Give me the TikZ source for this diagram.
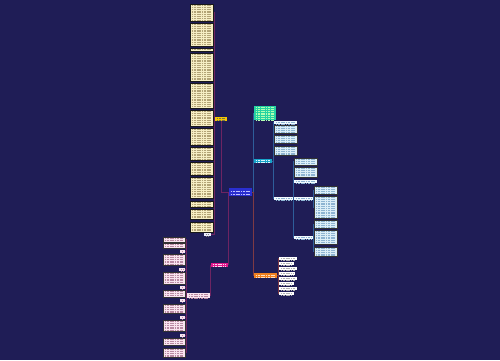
\documentclass[tikz,border=0pt]{standalone}
\pgfdeclarelayer{bg}
\pgfsetlayers{bg,main}
\definecolor{bgc}{HTML}{1F1D56}
\definecolor{beigef}{HTML}{F6EEC4}
\definecolor{beiget}{HTML}{B3A476}
\definecolor{lbf}{HTML}{DCEEF7}
\definecolor{lbt}{HTML}{8DB4D2}
\definecolor{pinkf}{HTML}{F8E4EF}
\definecolor{pinkt}{HTML}{B98AA3}
\definecolor{rootf}{HTML}{2A2FD0}
\definecolor{greenf}{HTML}{24D3A2}
\definecolor{cyanf}{HTML}{17A3C9}
\definecolor{yellowf}{HTML}{F5C800}
\definecolor{magf}{HTML}{E0168C}
\definecolor{orangef}{HTML}{F08020}
\definecolor{lnleft}{HTML}{6E2462}
\definecolor{lnright}{HTML}{2E5E9A}
\definecolor{lnorange}{HTML}{7E3A44}
\tikzset{
  tl/.style 2 args={path picture={
    \foreach \k in {1,...,16}{
      \draw[#1, line width=0.65pt, dash pattern=on 1.6pt off 0.5pt on 2.4pt off 0.6pt on 1pt off 0.5pt on 3pt off 0.6pt]
        ([xshift=1.6pt, yshift=-\k*#2+0.2pt]path picture bounding box.north west) --
        ([xshift=-1.6pt, yshift=-\k*#2+0.2pt]path picture bounding box.north east);
    }}},
  boxbase/.style={rectangle, inner sep=0pt, outer sep=0pt},
  beige/.style={boxbase, fill=beigef, draw=black!90, line width=0.6pt, tl={beiget}{1.8pt}},
  blab/.style={boxbase, fill=white!92!blue, tl={gray}{1.9pt}},
  lb/.style={boxbase, fill=lbf, draw=black!80, line width=0.5pt, tl={lbt}{1.8pt}},
  lbthin/.style={boxbase, fill=white!95!cyan, tl={lbt}{1.9pt}},
  pinkb/.style={boxbase, fill=pinkf, draw=black!80, line width=0.5pt, tl={pinkt}{1.8pt}},
  pinkl/.style={boxbase, fill=pinkf, tl={pinkt}{1.9pt}},
  whiteb/.style={boxbase, fill=white, tl={gray!60}{1.9pt}},
  rootb/.style={boxbase, fill=rootf, tl={white!75!blue}{3.2pt}},
  greenb/.style={boxbase, fill=greenf, tl={white!70!green}{1.8pt}},
  cyanb/.style={boxbase, fill=cyanf, tl={white!85!cyan}{1.9pt}},
  yellowb/.style={boxbase, fill=yellowf, tl={black!60!yellow}{1.9pt}},
  magb/.style={boxbase, fill=magf, tl={white!85!magenta}{1.9pt}},
  orangeb/.style={boxbase, fill=orangef, tl={white!75!orange}{2.2pt}},
  lnL/.style={draw=lnleft, line width=0.6pt},
  lnR/.style={draw=lnright, line width=0.6pt},
  lnO/.style={draw=lnorange, line width=0.6pt},
}
\newcommand\bx[6]{\node[#6, minimum width={(#4)-(#2)}, minimum height={(#5)-(#3)}] (#1) at ({((#2)+(#4))/2},{((#3)+(#5))/2}) {};}
\begin{document}
\begin{tikzpicture}[x=1pt,y=-1pt]
\useasboundingbox (0,0) rectangle (500,360);
% root and main branches
\bx{root}{229}{188}{252}{196}{rootb}
\bx{yellow}{215}{117}{227}{121}{yellowb}
\bx{magenta}{211}{263}{228}{267}{magb}
\bx{green}{254}{106}{276}{120}{greenb}
\bx{cyan}{254}{159}{272}{163}{cyanb}
\bx{orange}{254}{273}{277}{278}{orangeb}
% beige column
\bx{b1}{190}{4}{213}{21}{beige}
\bx{b2}{190}{23}{213}{46}{beige}
\bx{b3}{190}{48}{213}{51}{beige}
\bx{b4}{190}{53}{213}{81}{beige}
\bx{b5}{190}{83}{213}{108}{beige}
\bx{b6}{190}{110}{213}{126}{beige}
\bx{b7}{190}{128}{213}{145}{beige}
\bx{b8}{190}{147}{213}{160}{beige}
\bx{b9}{190}{162}{213}{175}{beige}
\bx{b10}{190}{177}{213}{198}{beige}
\bx{b11}{190}{201}{213}{207}{beige}
\bx{b12}{190}{209}{213}{219}{beige}
\bx{b13}{190}{222}{213}{232}{beige}
\bx{b14}{204}{233}{211}{236}{blab}
% magenta branch
\bx{mid}{187}{293}{210}{298}{pinkl}
\bx{p1}{163}{237}{185}{242}{pinkb}
\bx{p2}{163}{243}{185}{248}{pinkb}
\bx{p3}{180}{250}{185}{253}{pinkl}
\bx{p4}{163}{254}{185}{265}{pinkb}
\bx{p5}{179}{268}{185}{271}{pinkl}
\bx{p6}{163}{272}{185}{284}{pinkb}
\bx{p7}{180}{286}{185}{289}{pinkl}
\bx{p8}{163}{290}{185}{297}{pinkb}
\bx{p9}{180}{299}{185}{302}{pinkl}
\bx{p10}{163}{304}{185}{313}{pinkb}
\bx{p11}{180}{316}{185}{319}{pinkl}
\bx{p12}{163}{320}{185}{331}{pinkb}
\bx{p13}{180}{334}{185}{337}{pinkl}
\bx{p14}{163}{338}{185}{345}{pinkb}
\bx{p15}{163}{348}{185}{357}{pinkb}
% cyan branch
\bx{c1}{274}{121}{297}{124}{lbthin}
\bx{c2}{274}{125}{297}{133}{lb}
\bx{c3}{274}{135}{297}{143}{lb}
\bx{c4}{274}{146}{297}{155}{lb}
\bx{c5}{274}{197}{293}{200}{lbthin}
\bx{d1}{294}{158}{317}{165}{lb}
\bx{d2}{294}{167}{317}{177}{lb}
\bx{d3}{294}{180}{317}{183}{lbthin}
\bx{d4}{294}{197}{313}{200}{lbthin}
\bx{d5}{294}{236}{313}{239}{lbthin}
\bx{e1}{314}{186}{337}{194}{lb}
\bx{e2}{314}{196}{337}{218}{lb}
\bx{e3}{314}{220}{337}{228}{lb}
\bx{e4}{314}{230}{337}{244}{lb}
\bx{e5}{314}{247}{337}{256}{lb}
% orange branch
\bx{o1}{279}{257}{297}{260}{whiteb}
\bx{o2}{279}{262}{294}{265}{whiteb}
\bx{o3}{279}{267}{297}{270}{whiteb}
\bx{o4}{279}{272}{295}{275}{whiteb}
\bx{o5}{279}{277}{297}{280}{whiteb}
\bx{o6}{279}{282}{294}{285}{whiteb}
\bx{o7}{279}{287}{297}{290}{whiteb}
\bx{o8}{279}{292}{294}{295}{whiteb}
\begin{pgfonlayer}{bg}
\fill[bgc] (0,0) rectangle (500,360);
\draw[lnL] (root.west) -| (yellow.south);
\draw[lnL] (root.west) -- ++(-1,0) |- (magenta.east);
\foreach \n in {b1,b2,b3,b4,b5,b6,b7,b8,b9,b10,b11,b12,b13,b14}
  \draw[lnL] (yellow.west) -- ++(-0.7,0) |- (\n.east);
\draw[lnL] (magenta.west) -- ++(-0.6,0) |- (mid.east);
\foreach \n in {p1,p2,p3,p4,p5,p6,p7,p8,p9,p10,p11,p12,p13,p14,p15}
  \draw[lnL] (mid.west) -- ++(-0.7,0) |- (\n.east);
\foreach \n in {green,cyan}
  \draw[lnR] (root.east) -- ++(1,0) |- (\n.west);
\draw[lnO] (root.east) -- ++(1,0) |- (orange.west);
\foreach \n in {c1,c2,c3,c4,c5}
  \draw[lnR] (cyan.east) -- ++(1,0) |- (\n.west);
\foreach \n in {d1,d2,d3,d4,d5}
  \draw[lnR] (c5.east) -- ++(0.5,0) |- (\n.west);
\foreach \n in {e1,e2}
  \draw[lnR] (d4.east) -- ++(0.5,0) |- (\n.west);
\foreach \n in {e3,e4,e5}
  \draw[lnR] (d5.east) -- ++(0.5,0) |- (\n.west);
\foreach \n in {o1,o2,o3,o4,o5,o6,o7,o8}
  \draw[lnO] (orange.east) -- ++(1,0) |- (\n.west);
\end{pgfonlayer}
\end{tikzpicture}
\end{document}
